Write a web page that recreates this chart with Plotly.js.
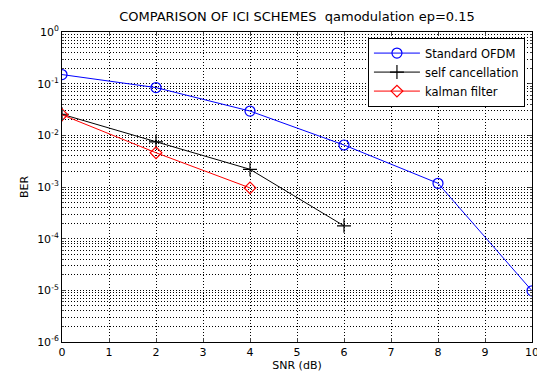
<!DOCTYPE html>
<html><head><meta charset="utf-8">
<script src="https://cdn.plot.ly/plotly-3.0.1.min.js"></script>
<style>html,body{margin:0;padding:0;background:#fff}#chart{width:537px;height:374px}</style>
</head><body><div id="chart"></div>
<script>
const snr = [0, 2, 4, 6, 8, 10];
const berStandard = [0.15, 0.084, 0.0295, 0.0065, 0.00118, 0.0000098];
const snrSelf = [0, 2, 4, 6];
const berSelf = [0.0256, 0.0075, 0.0022, 0.000177];
const snrKalman = [0, 2, 4];
const berKalman = [0.025, 0.0046, 0.00096];
const yTickVals = [1, 0.1, 0.01, 0.001, 0.0001, 0.00001, 0.000001];
const yTickText = ['10<sup>0</sup>','10<sup>-1</sup>','10<sup>-2</sup>','10<sup>-3</sup>','10<sup>-4</sup>','10<sup>-5</sup>','10<sup>-6</sup>'];
const xTickVals = [0,1,2,3,4,5,6,7,8,9,10];

const traces = [
  {x: snr, y: berStandard, name: 'Standard OFDM', mode: 'lines+markers',
   line: {color: '#0000ff', width: 1}, marker: {symbol: 'circle-open', size: 10, color: '#0000ff', line: {width: 1.2}}},
  {x: snrSelf, y: berSelf, name: 'self cancellation', mode: 'lines+markers',
   line: {color: '#000000', width: 1}, marker: {symbol: 'cross-thin-open', size: 10, color: '#000000', line: {width: 1.2}}},
  {x: snrKalman, y: berKalman, name: 'kalman filter', mode: 'lines+markers',
   line: {color: '#ff0000', width: 1}, marker: {symbol: 'diamond-open', size: 9, color: '#ff0000', line: {width: 1.2}}}
];

const gridDash = '1px,2px';
const layout = {
  width: 537, height: 374,
  margin: {l: 62, r: 5, t: 32, b: 32},
  paper_bgcolor: '#fff', plot_bgcolor: '#fff',
  font: {family: '"DejaVu Sans", Arial, sans-serif', size: 11, color: '#000'},
  title: {text: 'COMPARISON OF ICI SCHEMES  qamodulation ep=0.15', font: {size: 13}, x: 0.553, xanchor: 'center', y: 0.955, yanchor: 'middle'},
  showlegend: true,
  legend: {x: 0.985, xanchor: 'right', y: 0.982, yanchor: 'top', bgcolor: '#fff', bordercolor: '#000', borderwidth: 1,
           font: {size: 11.5}, tracegroupgap: 0, itemwidth: 46},
  xaxis: {range: [0, 10], tickvals: xTickVals, ticks: 'inside', ticklen: 4, mirror: 'allticks', ticklabeloverflow: 'allow',
          showline: true, linecolor: '#000', linewidth: 1, showgrid: true, gridcolor: '#000', griddash: gridDash, gridwidth: 1,
          zeroline: false, tickfont: {size: 11},
          title: {text: 'SNR (dB)', font: {size: 11}, standoff: 2}},
  yaxis: {type: 'log', range: [-6, 0], tickvals: yTickVals, ticktext: yTickText, ticks: 'inside', ticklen: 4, mirror: 'allticks',
          showline: true, linecolor: '#000', linewidth: 1, showgrid: true, gridcolor: '#000', griddash: gridDash, gridwidth: 1,
          zeroline: false, tickfont: {size: 11},
          minor: {dtick: 'D1', showgrid: true, gridcolor: '#000', griddash: gridDash, gridwidth: 1, ticks: 'inside', ticklen: 2},
          title: {text: 'BER', font: {size: 11}, standoff: 6}}
};
Plotly.newPlot('chart', traces, layout, {staticPlot: true, displayModeBar: false});
</script></body></html>
